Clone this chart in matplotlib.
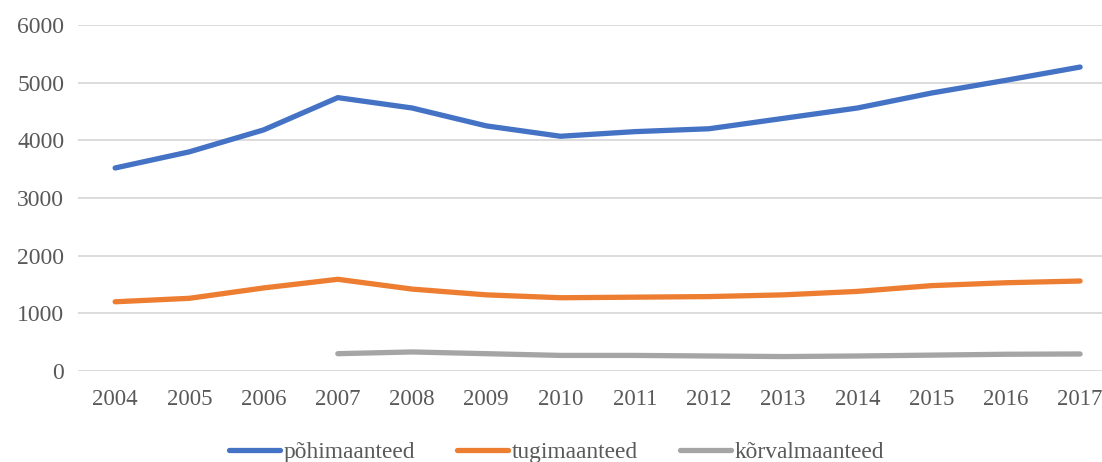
import numpy as np
import matplotlib.pyplot as plt

years = [2004, 2005, 2006, 2007, 2008, 2009, 2010, 2011, 2012, 2013, 2014, 2015, 2016, 2017]
pohimaanteed = [3520, 3800, 4180, 4740, 4560, 4250, 4070, 4150, 4200, 4380, 4560, 4820, 5040, 5270]
tugimaanteed = [1200, 1260, 1440, 1590, 1420, 1320, 1270, 1280, 1290, 1320, 1380, 1480, 1530, 1560]
korvalmaanteed = [np.nan, np.nan, np.nan, 300, 330, 300, 270, 270, 260, 250, 260, 275, 290, 295]

plt.rcParams['font.family'] = ['Liberation Serif', 'DejaVu Serif']

fig = plt.figure(figsize=(11.02, 4.62), dpi=100)
ax = fig.add_axes([0.0708, 0.197, 0.943, 0.749])

x = np.arange(len(years))
ax.plot(x, pohimaanteed, color='#4472C4', lw=3.8, solid_capstyle='round', solid_joinstyle='round', label='põhimaanteed')
ax.plot(x, tugimaanteed, color='#ED7D31', lw=3.8, solid_capstyle='round', solid_joinstyle='round', label='tugimaanteed')
ax.plot(x, korvalmaanteed, color='#A5A5A5', lw=3.8, solid_capstyle='round', solid_joinstyle='round', label='kõrvalmaanteed')

ax.set_xlim(-0.5, len(years) - 0.5)
ax.set_ylim(0, 6000)
ax.set_yticks(range(0, 6001, 1000))
ax.set_xticks(x)
ax.set_xticklabels([str(y) for y in years])
ax.grid(axis='y', color='#D9D9D9', lw=1.3)
ax.set_axisbelow(True)
for s in ax.spines.values():
    s.set_visible(False)
ax.tick_params(length=0, labelsize=16.5, labelcolor='#595959')
ax.tick_params(axis='y', labelsize=17)
ax.tick_params(axis='x', pad=13)
ax.tick_params(axis='y', pad=10)

fig.legend(loc='lower center', bbox_to_anchor=(0.505, -0.048), ncol=3, frameon=False,
           fontsize=16.8, labelcolor='#595959', handlelength=2.2, handletextpad=0.15,
           columnspacing=1.8)

fig.savefig('out.png', dpi=100)
